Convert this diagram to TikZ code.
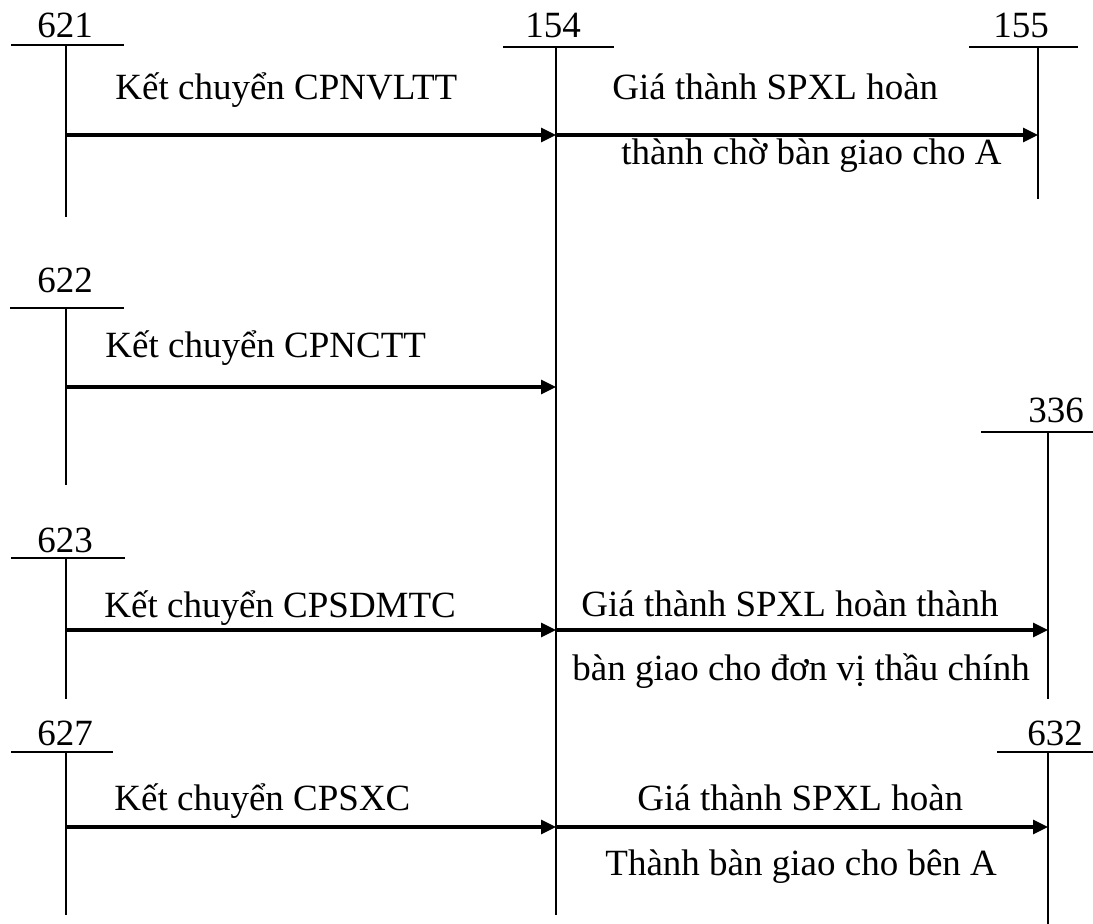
\documentclass[tikz,border=0pt]{standalone}
\usepackage{fontspec}
\setmainfont{Liberation Serif}
\usetikzlibrary{arrows.meta}
\tikzset{
  acctline/.style={line width=1.2pt},
  postarrow/.style={-{Triangle[length=7.5pt,width=7pt]}, line width=1.6pt},
  acctlabel/.style={anchor=base, inner sep=0pt, font=\fontsize{18.5}{22}\selectfont},
  posttext/.style={anchor=base west, inner sep=0pt, font=\fontsize{18.5}{22}\selectfont}
}

\begin{document}
\begin{tikzpicture}[x=0.5pt, y=-0.5pt]
  \useasboundingbox (0,0) rectangle (1093,924);

  % T accounts: head bar, vertical stem, number on top
  \node[acctlabel] (n621) at (65,38) {621};
  \draw[acctline] (11,45) -- (124,45);
  \coordinate (v621) at (66,45);
  \draw[acctline] (v621) -- (66,217);

  \node[acctlabel] (n154) at (553,38) {154};
  \draw[acctline] (503,47) -- (614,47);
  \coordinate (v154) at (556,47);
  \draw[acctline] (v154) -- (556,915);

  \node[acctlabel] (n155) at (1021,38) {155};
  \draw[acctline] (969,47) -- (1078,47);
  \coordinate (v155) at (1038,47);
  \draw[acctline] (v155) -- (1038,199);

  \node[acctlabel] (n622) at (65,293) {622};
  \draw[acctline] (10,308) -- (124,308);
  \coordinate (v622) at (66,308);
  \draw[acctline] (v622) -- (66,485);

  \node[acctlabel] (n336) at (1056,423) {336};
  \draw[acctline] (981,432) -- (1093,432);
  \coordinate (v336) at (1048,432);
  \draw[acctline] (v336) -- (1048,699);

  \node[acctlabel] (n623) at (65,553) {623};
  \draw[acctline] (11,558) -- (125,558);
  \coordinate (v623) at (66,558);
  \draw[acctline] (v623) -- (66,699);

  \node[acctlabel] (n627) at (65,746) {627};
  \draw[acctline] (11,752) -- (113,752);
  \coordinate (v627) at (66,752);
  \draw[acctline] (v627) -- (66,915);

  \node[acctlabel] (n632) at (1055,746) {632};
  \draw[acctline] (997,752) -- (1093,752);
  \coordinate (v632) at (1048,752);
  \draw[acctline] (v632) -- (1048,924);

  % postings
  \draw[postarrow] (v621 |- 0,135) -- (v154 |- 0,135);
  \draw[postarrow] (v154 |- 0,135) -- (v155 |- 0,135);
  \draw[postarrow] (v622 |- 0,387) -- (v154 |- 0,387);
  \draw[postarrow] (v623 |- 0,630) -- (v154 |- 0,630);
  \draw[postarrow] (v154 |- 0,630) -- (v336 |- 0,630);
  \draw[postarrow] (v627 |- 0,827) -- (v154 |- 0,827);
  \draw[postarrow] (v154 |- 0,827) -- (v632 |- 0,827);

  \node[posttext] (k621) at (115,100) {Kết chuyển CPNVLTT};
  \node[posttext] (g155a) at (612,100) {Giá thành SPXL hoàn};
  \node[posttext] (g155b) at (621,165) {thành chờ bàn giao cho A};
  \node[posttext] (k622) at (105,358) {Kết chuyển CPNCTT};
  \node[posttext] (k623) at (104,618) {Kết chuyển CPSDMTC};
  \node[posttext] (g336a) at (581,617) {Giá thành SPXL hoàn thành};
  \node[posttext] (g336b) at (572,681) {bàn giao cho đơn vị thầu chính};
  \node[posttext] (k627) at (114,811) {Kết chuyển CPSXC};
  \node[posttext] (g632a) at (637,811) {Giá thành SPXL hoàn};
  \node[posttext] (g632b) at (605,875) {Thành bàn giao cho bên A};
\end{tikzpicture}
\end{document}
